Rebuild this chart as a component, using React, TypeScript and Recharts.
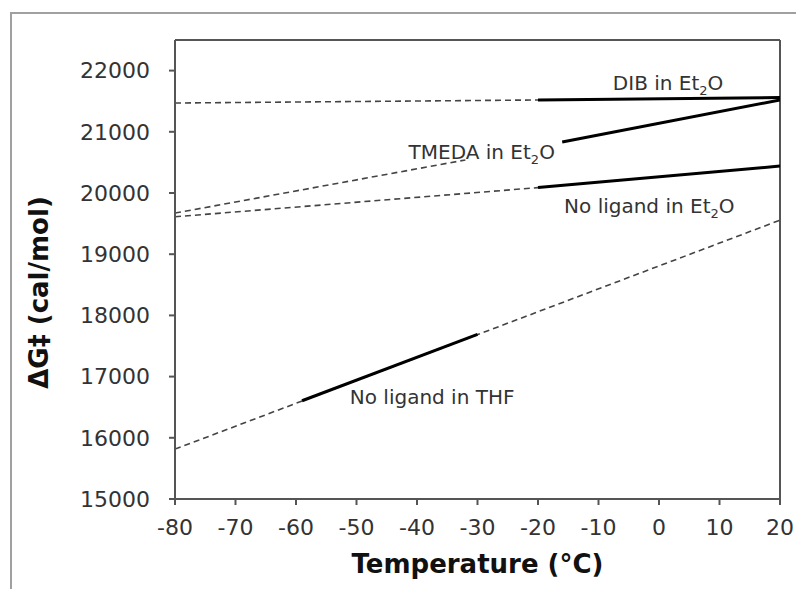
import { LineChart, Line, XAxis, YAxis, ReferenceLine, ReferenceDot } from "recharts";

// temperatures (°C) and ΔG‡ (cal/mol)
const dibDashT = [-80, -20];
const dibDashG = [21470, 21520];
const dibSolidT = [-20, 20];
const dibSolidG = [21520, 21560];

const tmedaDashT = [-80, -32];
const tmedaDashG = [19672, 20540];
const tmedaSolidT = [-16, 20];
const tmedaSolidG = [20832, 21520];

const etherDashT = [-80, -20];
const etherDashG = [19611, 20088];
const etherSolidT = [-20, 20];
const etherSolidG = [20088, 20440];

const thfDashT = [-80, 20];
const thfDashG = [15815, 19556];
const thfSolidT = [-59, -30];
const thfSolidG = [16605, 17690];

const xTicks = [-80, -70, -60, -50, -40, -30, -20, -10, 0, 10, 20];
const yTicks = [15000, 16000, 17000, 18000, 19000, 20000, 21000, 22000];

const toPoints = (t: number[], g: number[]) => t.map((v, i) => ({ t: v, g: g[i] }));

const dashed = [
  toPoints(dibDashT, dibDashG),
  toPoints(tmedaDashT, tmedaDashG),
  toPoints(etherDashT, etherDashG),
  toPoints(thfDashT, thfDashG),
];
const solid = [
  toPoints(dibSolidT, dibSolidG),
  toPoints(tmedaSolidT, tmedaSolidG),
  toPoints(etherSolidT, etherSolidG),
  toPoints(thfSolidT, thfSolidG),
];

const labels = [
  { t: 1.5, g: 21796, pre: "DIB in Et", sub: "2", post: "O" },
  { t: -29.3, g: 20668, pre: "TMEDA in Et", sub: "2", post: "O" },
  { t: -1.6, g: 19786, pre: "No ligand in Et", sub: "2", post: "O" },
  { t: -37.5, g: 16665, pre: "No ligand in THF", sub: "", post: "" },
];

const font = "'DejaVu Sans', Verdana, sans-serif";
const axisColor = "#555";

function SeriesLabel(props: any) {
  const { viewBox, pre, sub, post } = props;
  const cx = viewBox.x + viewBox.width / 2;
  const cy = viewBox.y + viewBox.height / 2;
  return (
    <text x={cx} y={cy + 7} textAnchor="middle" fontFamily={font} fontSize={20} fill="#333">
      {pre}
      {sub && (
        <tspan dy={5} fontSize={13}>
          {sub}
        </tspan>
      )}
      {post && <tspan dy={sub ? -5 : 0}>{post}</tspan>}
    </text>
  );
}

function YTitle(props: any) {
  const { viewBox } = props;
  const cx = 39;
  const cy = viewBox.y + viewBox.height / 2 + 23;
  return (
    <text
      x={cx}
      y={cy}
      transform={`rotate(-90 ${cx} ${cy})`}
      textAnchor="middle"
      dominantBaseline="central"
      fontFamily={font}
      fontSize={26}
      fontWeight="bold"
      fill="#111"
    >
      ΔG‡ (cal/mol)
    </text>
  );
}

export default function App() {
  return (
    <div style={{ position: "relative", width: 796, height: 589, overflow: "hidden", background: "#fff" }}>
      <style>{`body{margin:0}`}</style>
      <div
        style={{
          position: "absolute",
          left: 10,
          top: 12,
          width: 820,
          height: 620,
          border: "2px solid #a0a0a0",
        }}
      />
      <div style={{ position: "absolute", left: 0, top: 0 }}>
        <LineChart width={796} height={589} margin={{ top: 40, right: 16, bottom: 20, left: 0 }}>
          <XAxis
            dataKey="t"
            type="number"
            domain={[-80, 20]}
            ticks={xTicks}
            allowDataOverflow
            height={70}
            stroke={axisColor}
            strokeWidth={2}
            tickSize={6}
            tick={{ fill: "#333", fontSize: 22, fontFamily: font, dy: 12 }}
            label={{
              value: "Temperature (°C)",
              position: "insideBottom",
              offset: -4,
              fill: "#111",
              fontSize: 26,
              fontWeight: "bold",
              fontFamily: font,
            }}
          />
          <YAxis
            dataKey="g"
            type="number"
            domain={[15000, 22500]}
            ticks={yTicks}
            allowDataOverflow
            width={175}
            stroke={axisColor}
            strokeWidth={2}
            tickSize={6}
            tick={{ fill: "#333", fontSize: 22, fontFamily: font, dx: -17 }}
            label={<YTitle />}
          />
          <ReferenceLine y={22500} stroke={axisColor} strokeWidth={2} />
          <ReferenceLine x={20} stroke={axisColor} strokeWidth={2} />
          {dashed.map((d, i) => (
            <Line
              key={"d" + i}
              data={d}
              dataKey="g"
              type="linear"
              stroke="#444"
              strokeWidth={1.6}
              strokeDasharray="6 4"
              dot={false}
              activeDot={false}
              isAnimationActive={false}
            />
          ))}
          {solid.map((d, i) => (
            <Line
              key={"s" + i}
              data={d}
              dataKey="g"
              type="linear"
              stroke="#000"
              strokeWidth={3}
              dot={false}
              activeDot={false}
              isAnimationActive={false}
            />
          ))}
          {labels.map((l, i) => (
            <ReferenceDot
              key={"l" + i}
              x={l.t}
              y={l.g}
              r={0}
              fill="none"
              stroke="none"
              label={<SeriesLabel pre={l.pre} sub={l.sub} post={l.post} />}
            />
          ))}
        </LineChart>
      </div>
    </div>
  );
}
